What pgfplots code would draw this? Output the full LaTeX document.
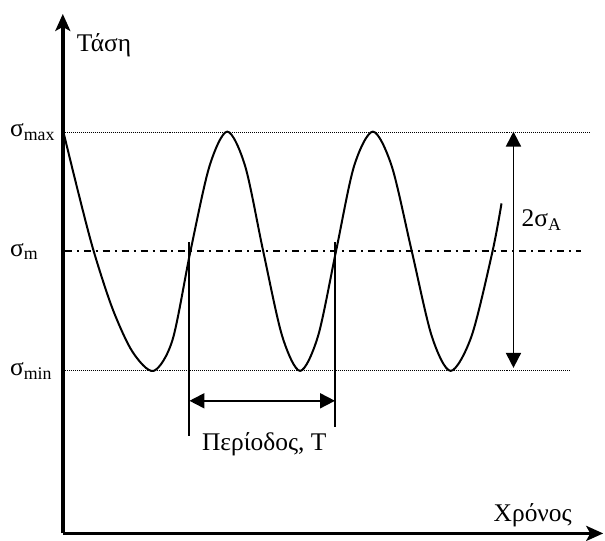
\documentclass[border=0pt]{standalone}
\usepackage{fontspec}
\setmainfont{Liberation Serif}
\usepackage{pgfplots}
\pgfplotsset{compat=1.18}
\usetikzlibrary{arrows.meta}

\tikzset{
  lbl/.style={font=\fontsize{25.5}{30}\selectfont, inner sep=0pt},
  tri/.style={line width=1.9pt, {Triangle[length=15pt,width=15pt]}-{Triangle[length=15pt,width=15pt]}},
}

\begin{document}
\begin{tikzpicture}
\begin{axis}[
  scale only axis, width=542pt, height=521pt,
  xmin=0, xmax=542, ymin=0, ymax=521,
  axis lines=left,
  axis line style={line width=3.6pt, -{Stealth[length=17pt,width=15pt,inset=4pt]}},
  xtick=\empty, ytick=\empty,
  clip=false]

% reference levels
\addplot[black, line width=0.9pt, dash pattern=on 1pt off 1pt] coordinates {(2,402) (529,402)};
\addplot[black, line width=2.2pt, dash pattern=on 7pt off 5pt on 2pt off 5pt] coordinates {(2,283) (520,283)};
\addplot[black, line width=0.9pt, dash pattern=on 1pt off 1pt] coordinates {(2,163) (509,163)};

% stress history
\addplot[black, line width=2pt, smooth] coordinates {
  (1,401) (16,340) (31,283) (50,225) (70,182) (91,163) (110,194) (128,283)
  (147,368) (165,403) (183,368) (201,283) (220,198) (238,163) (256,198)
  (274,283) (292,368) (311,403) (330,368) (350,283) (370,198) (389,163)
  (410,198) (431,283) (440,331)
};

% period markers
\addplot[black, line width=2pt] coordinates {(127,292) (127,98)};
\addplot[black, line width=2pt] coordinates {(273,292) (273,107)};
\addplot[tri] coordinates {(127,133) (273,133)};
\addplot[tri] coordinates {(452,403) (452,166)};

% labels
\node[lbl, anchor=base west] at (axis cs:14,483) {Τάση};
\node[lbl, anchor=base west] at (axis cs:432,12) {Χρόνος};
\node[lbl, anchor=base west] at (axis cs:-53,398) {σ\textsubscript{max}};
\node[lbl, anchor=base west] at (axis cs:-53,278) {σ\textsubscript{m}};
\node[lbl, anchor=base west] at (axis cs:-53,158) {σ\textsubscript{min}};
\node[lbl, anchor=base west] at (axis cs:460,308) {2σ\textsubscript{A}};
\node[lbl, anchor=base] at (axis cs:202,83) {Περίοδος, T};

\path (axis cs:-63,-7) rectangle (axis cs:542,535);
\end{axis}
\end{tikzpicture}
\end{document}
